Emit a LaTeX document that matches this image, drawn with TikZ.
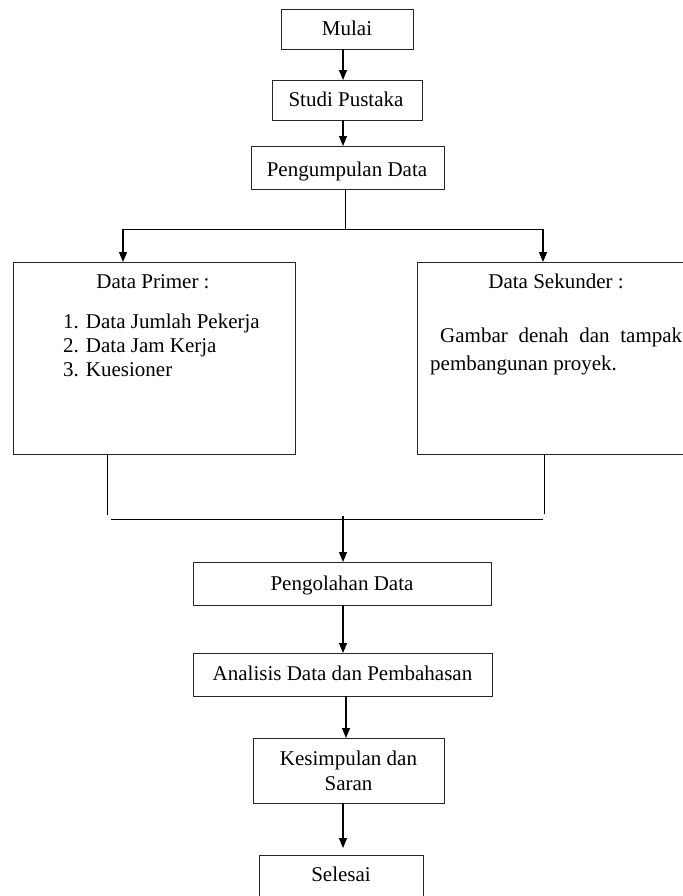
\documentclass[tikz,border=0pt]{standalone}
\usepackage{fontspec}
\setmainfont{Liberation Serif}
\usetikzlibrary{arrows.meta}
\begin{document}
\begin{tikzpicture}[x=1bp,y=-1bp,
  box/.style={draw=black!85, line width=0.9bp, inner sep=0pt, outer sep=0pt, anchor=north west},
  txt/.style={anchor=base, inner sep=0pt, font=\fontsize{21bp}{24bp}\selectfont},
  txtl/.style={anchor=base west, inner sep=0pt, font=\fontsize{21bp}{24bp}\selectfont},
  conn/.style={draw=black, line width=0.9bp},
  arr/.style={draw=black, line width=1.2bp, -{Triangle[length=10bp,width=8bp]}}]
\useasboundingbox (0,0) rectangle (683,896);
\fill[white] (0,0) rectangle (683,896);
\clip (0,0) rectangle (683,896);

% boxes
\node[box, minimum width=132bp, minimum height=40bp] (mulai) at (281,9) {};
\node[box, minimum width=150bp, minimum height=40bp] (studi) at (272,80) {};
\node[box, minimum width=193bp, minimum height=43bp] (peng) at (251,146) {};
\node[box, minimum width=282bp, minimum height=192bp] (primer) at (13,262) {};
\node[box, minimum width=300bp, minimum height=192bp] (sekunder) at (417,262) {};
\node[box, minimum width=298bp, minimum height=43bp] (olah) at (193,562) {};
\node[box, minimum width=299bp, minimum height=43bp] (anal) at (193,653) {};
\node[box, minimum width=191bp, minimum height=65bp] (kes) at (253,738) {};
\node[box, minimum width=164bp, minimum height=60bp] (selesai) at (259,855) {};

% texts
\node[txt] (tmulai) at (347,35) {Mulai};
\node[txt] (tstudi) at (346,106) {Studi Pustaka};
\node[txt] (tpeng) at (347,176) {Pengumpulan Data};
\node[txt] (tprimer) at (153,288) {Data Primer :};
\node[txtl] (tp1) at (63,328) {1. Data Jumlah Pekerja};
\node[txtl] (tp2) at (63,352) {2. Data Jam Kerja};
\node[txtl] (tp3) at (63,376) {3. Kuesioner};
\node[txt] (tsek) at (556,288) {Data Sekunder :};
\node[txtl] (ts1) at (440,342) {\makebox[242bp][s]{Gambar denah dan tampak}};
\node[txtl] (ts2) at (430,370) {pembangunan proyek.};
\node[txt] (tolah) at (342,590) {Pengolahan Data};
\node[txt] (tanal) at (342.5,680) {Analisis Data dan Pembahasan};
\node[txt] (tkes1) at (348.5,765) {Kesimpulan dan};
\node[txt] (tkes2) at (348.5,790) {Saran};
\node[txt] (tsel) at (341,881) {Selesai};

% top arrows
\coordinate (a1) at (343,0);
\draw[arr] (mulai.south -| a1) -- (studi.north -| a1);
\draw[arr] (studi.south -| a1) -- (peng.north -| a1);

% split
\coordinate (split) at (345,229);
\coordinate (sL) at (123,229);
\coordinate (sR) at (543,229);
\draw[conn] (peng.south -| split) -- (split);
\draw[conn] (sL) -- (sR);
\draw[arr] (sL) -- (sL |- primer.north);
\draw[arr] (sR) -- (sR |- sekunder.north);

% merge
\coordinate (mL) at (107,515);
\coordinate (mR) at (544,514);
\coordinate (hL) at (111,519);
\coordinate (hR) at (543,519);
\coordinate (mC) at (343,516);
\draw[conn] (primer.south -| mL) -- (mL);
\draw[conn] (sekunder.south -| mR) -- (mR);
\draw[conn] (hL) -- (hR);
\draw[arr] (mC) -- (mC |- olah.north);

% bottom arrows
\coordinate (a2) at (346,0);
\coordinate (selTip) at (343,848);
\draw[arr] (olah.south -| a1) -- (anal.north -| a1);
\draw[arr] (anal.south -| a2) -- (kes.north -| a2);
\draw[arr] (kes.south -| selTip) -- (selTip);
\end{tikzpicture}
\end{document}
